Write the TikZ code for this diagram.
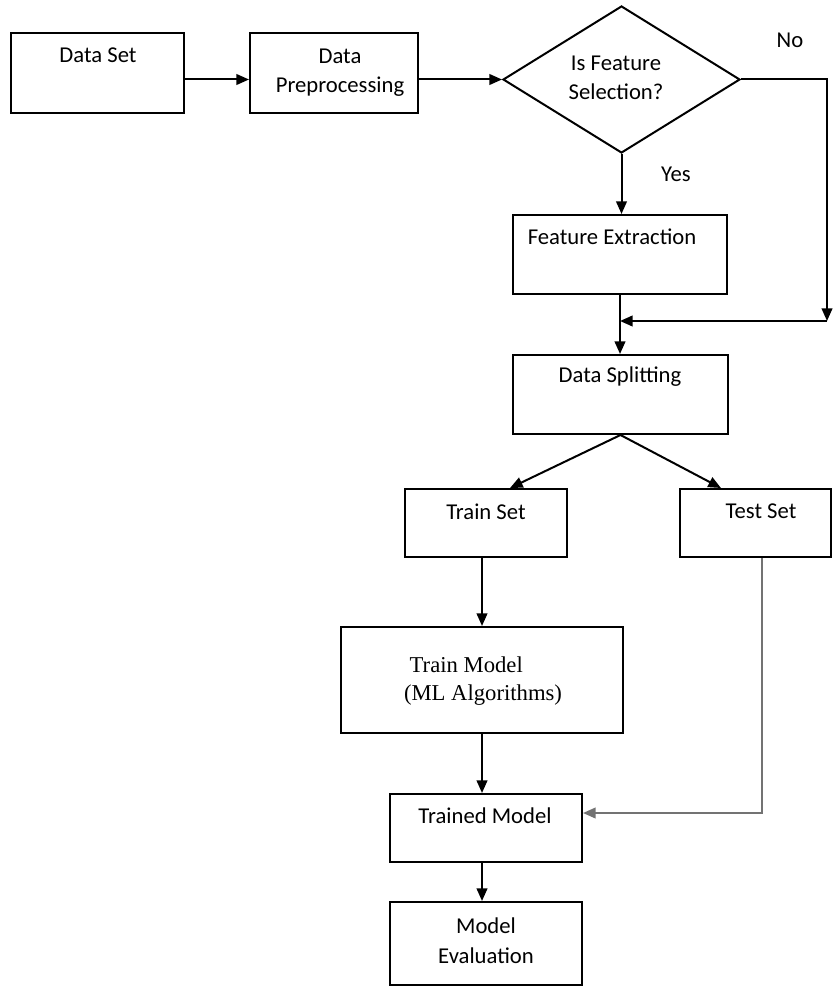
\documentclass[tikz,border=0pt]{standalone}
\usepackage{fontspec}
\setmainfont{Carlito}
\newfontfamily\serifface{Liberation Serif}
\usetikzlibrary{shapes.geometric,arrows.meta}

\begin{document}
\begin{tikzpicture}[x=.75pt, y=-.75pt, line width=1.5pt,
    box/.style={draw, rectangle, inner sep=0pt},
    lbl/.style={anchor=base, inner sep=0pt, align=center, font=\fontsize{17}{22}\selectfont},
    arr/.style={-{Triangle[length=9.5pt,width=8pt]}}]
  \useasboundingbox (0,0) rectangle (832,987);
  % boxes
  \node[box, minimum width=129.75pt, minimum height=60pt] (dataset) at (97.5,73) {};
  \node[box, minimum width=126pt, minimum height=60pt] (preproc) at (334,73) {};
  \node[draw, diamond, inner sep=0pt, minimum width=177.75pt, minimum height=110.25pt] (select) at (621.5,79.5) {};
  \node[box, minimum width=160.5pt, minimum height=59.25pt] (extract) at (620,254.5) {};
  \node[box, minimum width=161.25pt, minimum height=59.25pt] (split) at (620.5,394.5) {};
  \node[box, minimum width=121.5pt, minimum height=51pt] (trainset) at (486,523) {};
  \node[box, minimum width=113.25pt, minimum height=51pt] (testset) at (755.5,523) {};
  \node[box, minimum width=211.5pt, minimum height=79.5pt] (model) at (482,680) {};
  \node[box, minimum width=144pt, minimum height=51pt] (trained) at (486,828) {};
  \node[box, minimum width=144pt, minimum height=62.25pt] (evaluate) at (486,943.5) {};
  % texts (base = last line)
  \node[lbl] (datasettxt) at (98,63) {Data Set};
  \node[lbl] (preproctxt) at (340,93) {Data\\Preprocessing};
  \node[lbl] (selecttxt) at (616,100) {Is Feature\\Selection?};
  \node[lbl] (yestxt) at (676,182) {Yes};
  \node[lbl] (notxt) at (790,48) {No};
  \node[lbl] (extracttxt) at (612,245) {Feature Extraction};
  \node[lbl] (splittxt) at (620,382) {Data Splitting};
  \node[lbl] (trainsettxt) at (486,519) {Train Set};
  \node[lbl] (testsettxt) at (761,518) {Test Set};
  \node[lbl, anchor=base west, align=left, font=\serifface\fontsize{17}{21}\selectfont] (modeltxt) at (403,700) {\ Train Model\\(ML Algorithms)};
  \node[lbl] (trainedtxt) at (485,823) {Trained Model};
  \node[lbl] (evaluatetxt) at (486,963) {Model\\Evaluation};
  % connectors
  \coordinate (nocorner) at (827,321);
  \draw[arr] (dataset.east |- select.west) -- (preproc.west |- select.west);
  \draw[arr] (preproc.east |- select.west) -- (select.west);
  \draw[arr] (select.south) -- (select.south |- extract.north);
  \draw[arr] (select.east) -| (nocorner);
  \draw[arr] (nocorner) -- (nocorner -| extract.south);
  \draw[arr] (extract.south) -- (extract.south |- split.north);
  \draw[arr] (split.south) -- ([xshift=18pt]trainset.north);
  \draw[arr] (split.south) -- ([xshift=-25.9pt]testset.north);
  \draw[arr] (trainset.south -| model.north) -- (model.north);
  \draw[arr] (model.south) -- (model.south |- trained.north);
  \draw[arr] (model.south |- trained.south) -- (model.south |- evaluate.north);
  \draw[arr, black!55] ([xshift=4.9pt]testset.south) |- ([yshift=11.25pt]trained.east);
\end{tikzpicture}
\end{document}
